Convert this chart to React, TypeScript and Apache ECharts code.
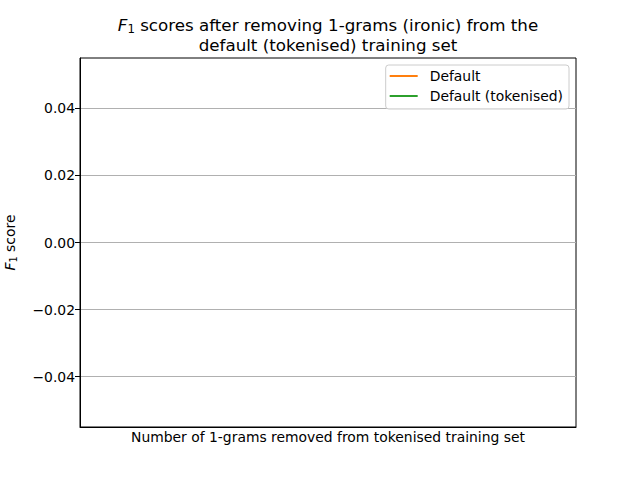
import React, { useEffect, useRef } from "react";
import * as echarts from "echarts";

const seriesNames = ["Default", "Default (tokenised)"];
const seriesColors = ["#ff7f0e", "#2ca02c"];
const defaultScores: [number, number][] = [];
const tokenisedScores: [number, number][] = [];
const yTicks = [-0.04, -0.02, 0.0, 0.02, 0.04];
const yMin = -0.055;
const yMax = 0.055;

const FONT = "DejaVu Sans";

export default function App() {
  const ref = useRef<HTMLDivElement>(null);
  useEffect(() => {
    if (!ref.current) return;
    const chart = echarts.init(ref.current, undefined, { renderer: "svg" });
    const fmt = (v: number) => v.toFixed(2).replace("-", "\u2212");
    chart.setOption({
      animation: false,
      backgroundColor: "#ffffff",
      textStyle: { fontFamily: FONT },
      graphic: [
        {
          type: "text",
          x: 328,
          y: 15,
          style: {
            text:
              "{i|F}{s|1}{m| scores after removing 1-grams (ironic) from the}\n{m|default (tokenised) training set}",
            align: "center",
            verticalAlign: "top",
            fill: "#000",
            fontFamily: FONT,
            rich: {
              i: { fontSize: 16.7, fontStyle: "italic", fontFamily: FONT, lineHeight: 20, verticalAlign: "middle", fill: "#000" },
              s: { fontSize: 11.7, fontFamily: FONT, lineHeight: 12, verticalAlign: "bottom", fill: "#000" },
              m: { fontSize: 16.7, fontFamily: FONT, lineHeight: 20, verticalAlign: "middle", fill: "#000" },
            },
          },
        },
      ],
      legend: {
        orient: "vertical",
        right: 71,
        top: 65,
        padding: [3, 6, 5, 4],
        icon: "rect",
        itemWidth: 28,
        itemHeight: 2,
        itemGap: 4,
        borderColor: "#cccccc",
        borderWidth: 1,
        borderRadius: 3,
        backgroundColor: "rgba(255,255,255,0.8)",
        textStyle: { fontFamily: FONT, fontSize: 13.9, lineHeight: 16, color: "#000", padding: [0, 0, 0, 7] },
        data: seriesNames,
      },
      grid: {
        left: 80,
        right: 64,
        top: 58,
        bottom: 53,
        show: true,
        borderColor: "#000",
        borderWidth: 1,
        backgroundColor: "#fff",
        containLabel: false,
        outerBoundsMode: "none",
      },
      xAxis: {
        type: "value",
        min: 0,
        max: 1,
        name: "Number of 1-grams removed from tokenised training set",
        nameLocation: "middle",
        nameGap: 3,
        nameTextStyle: { fontFamily: FONT, fontSize: 13.9, color: "#000", verticalAlign: "top" },
        axisLine: { show: true, onZero: false, lineStyle: { color: "#000", width: 1 } },
        axisTick: { show: false },
        axisLabel: { show: false },
        splitLine: { show: false },
      },
      yAxis: {
        type: "value",
        min: yMin,
        max: yMax,
        name: "{i|F}{s|1}{m| score}",
        nameLocation: "middle",
        nameGap: 62,
        nameRotate: 90,
        nameTextStyle: {
          fontFamily: FONT,
          fontSize: 13.9,
          color: "#000",
          rich: {
            i: { fontSize: 13.9, fontStyle: "italic", fontFamily: FONT, lineHeight: 17, verticalAlign: "middle", color: "#000" },
            s: { fontSize: 9.7, fontFamily: FONT, lineHeight: 10, verticalAlign: "bottom", color: "#000" },
            m: { fontSize: 13.9, fontFamily: FONT, lineHeight: 17, verticalAlign: "middle", color: "#000" },
          },
        },
        axisLine: { show: true, onZero: false, lineStyle: { color: "#000", width: 1 } },
        axisTick: { show: true, length: 5, lineStyle: { color: "#000" }, customValues: yTicks },
        axisLabel: {
          show: true,
          margin: 5,
          fontFamily: FONT,
          fontSize: 13.9,
          color: "#000",
          customValues: yTicks,
          formatter: fmt,
        },
        splitLine: { show: true, lineStyle: { color: "#b0b0b0", width: 1 } },
      },
      series: [
        {
          name: seriesNames[0],
          type: "line",
          data: defaultScores,
          symbol: "none",
          color: seriesColors[0],
          lineStyle: { width: 2, color: seriesColors[0] },
        },
        {
          name: seriesNames[1],
          type: "line",
          data: tokenisedScores,
          symbol: "none",
          color: seriesColors[1],
          lineStyle: { width: 2, color: seriesColors[1] },
        },
      ],
    });
    return () => chart.dispose();
  }, []);
  return (
    <div
      ref={ref}
      style={{ position: "fixed", left: 0, top: 0, width: 640, height: 480 }}
    />
  );
}
